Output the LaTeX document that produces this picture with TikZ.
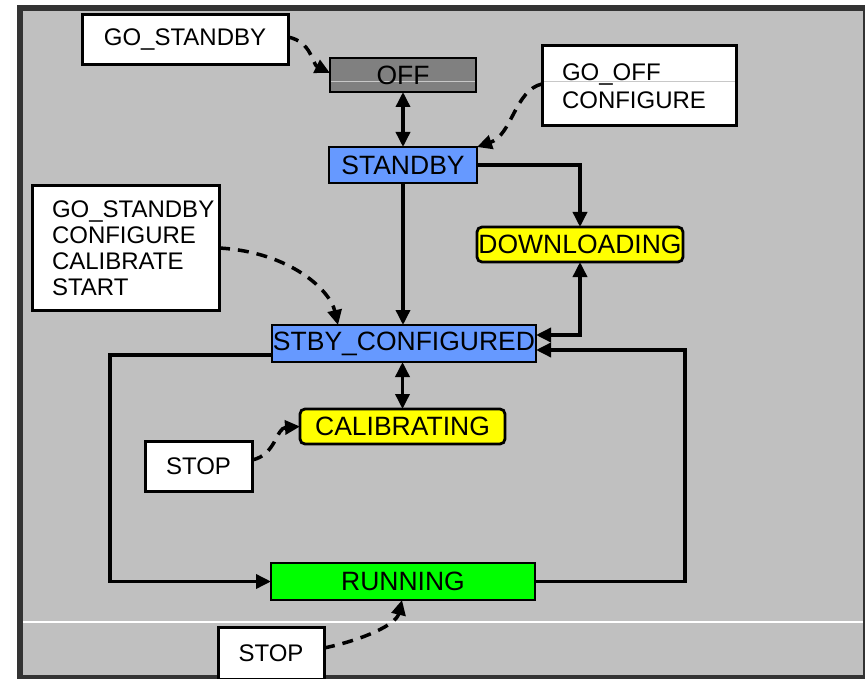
\documentclass[tikz,border=0pt]{standalone}
\usepackage{fontspec}
\setmainfont{Liberation Sans}
\usetikzlibrary{arrows.meta}
\definecolor{stblue}{HTML}{6699FF}
\definecolor{styellow}{HTML}{FFFF00}
\definecolor{stgreen}{HTML}{00FF00}
\definecolor{stoff}{HTML}{808080}
\definecolor{framedark}{HTML}{333333}
\definecolor{panelgray}{HTML}{C0C0C0}
\definecolor{artline}{HTML}{C8C8C8}
\tikzset{
  statebox/.style={draw, line width=2.8pt, inner sep=0pt, outer sep=0pt, anchor=north west,
    font=\fontsize{26.5}{28}\selectfont, text=black},
  labelbox/.style={draw, fill=white, line width=3pt, inner sep=0pt, outer sep=0pt, anchor=north west,
    font=\fontsize{24}{27}\selectfont},
  conn/.style={line width=3.5pt, -{Triangle[length=15pt,width=14pt]}},
  dconn/.style={line width=3.5pt, <->, >={Triangle[length=15pt,width=14pt]}},
  evconn/.style={line width=3.5pt, dash pattern=on 11pt off 8pt, -{Triangle[length=15pt,width=14pt]}},
}
\begin{document}
\begin{tikzpicture}[x=1pt,y=-1pt]
\useasboundingbox (0,0) rectangle (865,679);
\fill[white] (0,0) rectangle (865,679);
\fill[framedark] (17,5) rectangle (865,679);
\fill[panelgray] (23,11) rectangle (863,675);
\draw[white, line width=1.5pt] (23,622) -- (863,622);

% states
\node[statebox, fill=stoff, minimum width=146pt, minimum height=34pt,
  path picture={\draw[artline, line width=1pt] ([yshift=-7pt]path picture bounding box.west) -- ([yshift=-7pt]path picture bounding box.east);}]
  (off) at (330,58) {OFF};
\node[statebox, fill=stblue, minimum width=148pt, minimum height=36pt] (stb) at (329,147) {STANDBY};
\node[statebox, fill=styellow, rounded corners=5pt, minimum width=206pt, minimum height=35pt] (dl) at (477,227) {DOWNLOADING};
\node[statebox, fill=stblue, minimum width=264pt, minimum height=37pt] (sc) at (272,325) {STBY\_CONFIGURED};
\node[statebox, fill=styellow, rounded corners=5pt, minimum width=205pt, minimum height=35pt] (cal) at (300,409) {CALIBRATING};
\node[statebox, fill=stgreen, minimum width=264pt, minimum height=37pt] (run) at (271,563) {RUNNING};

% event labels
\node[labelbox, minimum width=206pt, minimum height=50pt] (gs) at (82,15) {GO\_STANDBY};
\node[labelbox, minimum width=194pt, minimum height=80pt, text width=154pt, inner xsep=20pt, align=left,
  font=\fontsize{24}{28}\selectfont,
  path picture={\draw[artline, line width=1pt] ([yshift=4pt]path picture bounding box.west) -- ([yshift=4pt]path picture bounding box.east);}]
  (goff) at (542,46) {GO\_OFF\\CONFIGURE};
\node[labelbox, minimum width=187pt, minimum height=124pt, text width=147pt, inner xsep=20pt, align=left,
  font=\fontsize{24}{26}\selectfont]
  (ghb) at (32,186) {GO\_STANDBY\\CONFIGURE\\CALIBRATE\\START};
\node[labelbox, minimum width=107pt, minimum height=50pt] (stop1) at (145,441) {STOP};
\node[labelbox, minimum width=106pt, minimum height=52pt] (stop2) at (218,627) {STOP};

% solid transitions
\draw[dconn] (off.south) -- (stb.north);
\draw[conn] (stb.east) -| (dl.north);
\draw[conn] (stb.south) -- (stb.south |- sc.north);
\draw[dconn] (dl.south) |- ([yshift=8.5pt]sc.east);
\draw[conn] (run.east) -- ++(150,0) |- ([yshift=-6.5pt]sc.east);
\draw[conn] ([yshift=-11.5pt]sc.west) -- ++(-162,0) |- (run.west);
\draw[dconn] (sc.south -| cal.north) -- (cal.north);

% event (dashed) transitions
\draw[evconn] ([yshift=3pt]gs.east) .. controls (312,42) and (312,64) .. ([yshift=2pt]off.west);
\draw[evconn] ([yshift=2pt]goff.west) .. controls (515,90) and (512,135) .. (stb.north east);
\draw[evconn] (ghb.east) .. controls (290,252) and (330,290) .. ([xshift=66pt]sc.north west);
\draw[evconn] ([yshift=6pt]stop1.east) .. controls (276,455) and (276,428) .. (cal.west);
\draw[evconn] ([yshift=5pt]stop2.east) .. controls (362,640) and (396,625) .. ([xshift=-1pt]run.south);
\end{tikzpicture}
\end{document}
